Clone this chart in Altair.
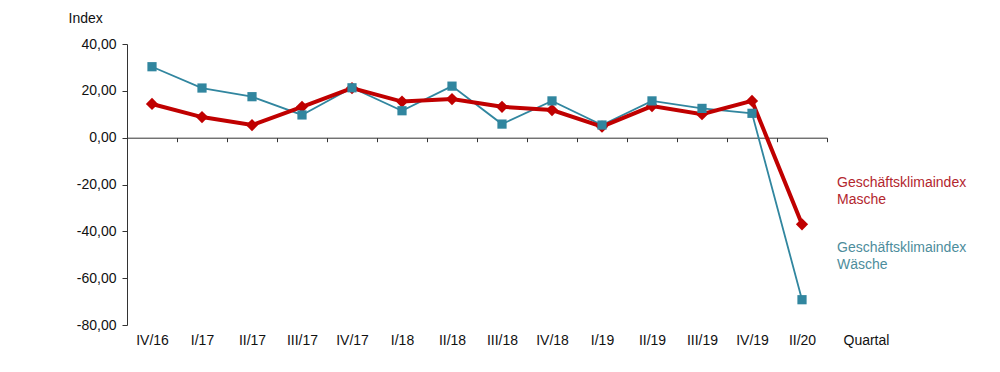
import altair as alt
import pandas as pd

quarters = ["IV/16", "I/17", "II/17", "III/17", "IV/17", "I/18", "II/18",
            "III/18", "IV/18", "I/19", "II/19", "III/19", "IV/19", "II/20"]
masche = [14.4, 8.8, 5.4, 13.2, 21.2, 15.4, 16.5, 13.2, 11.8, 4.7, 13.5, 10.0, 15.7, -37.0]
waesche = [30.3, 21.2, 17.5, 9.7, 21.3, 11.5, 22.0, 5.8, 15.7, 5.4, 15.7, 12.5, 10.4, -69.2]
series = ["Masche", "Wäsche"]
colors = ["#c00000", "#31869f"]
text_colors = ["#b3262e", "#4d8d9c"]
y_ticks = [-80, -60, -40, -20, 0, 20, 40]

df = pd.DataFrame({
    "Quartal": quarters * 2,
    "Wert": masche + waesche,
    "Serie": [series[0]] * len(quarters) + [series[1]] * len(quarters),
})

FONT = "Liberation Sans"

x = alt.X("Quartal:N", sort=quarters,
          scale=alt.Scale(type="band", paddingInner=0, paddingOuter=0),
          axis=alt.Axis(title="Quartal", titleX=716, titleY=203, titleAlign="left",
                        titleBaseline="middle", titleAngle=0, titleFontWeight="normal",
                        titleFont=FONT, titleFontSize=14, titleColor="#111",
                        offset=-187.3, tickBand="extent", tickSize=4, grid=False,
                        labelPadding=192, labelAngle=0, labelFont=FONT, labelFontSize=14,
                        labelColor="#111", domainColor="#333", tickColor="#333",
                        labelBaseline="top"))
y = alt.Y("Wert:Q",
          scale=alt.Scale(domain=[-80, 40], nice=False, zero=False),
          axis=alt.Axis(values=y_ticks, title="Index", titleX=-59, titleY=-26, titleAngle=0,
                        titleAlign="left", titleBaseline="middle", titleFontWeight="normal",
                        titleFont=FONT, titleFontSize=14, titleColor="#111",
                        labelExpr="(datum.value < 0 ? '-' : '') + replace(format(abs(datum.value), '.2f'), '.', ',')",
                        labelFont=FONT, labelFontSize=14, labelColor="#111", labelPadding=6,
                        tickSize=5, grid=False, domainColor="#333", tickColor="#333"))

color = alt.Color("Serie:N", scale=alt.Scale(domain=series, range=colors), legend=None)

base = alt.Chart(df).encode(x=x, y=y, color=color)

line_w = base.transform_filter(alt.datum.Serie == "Wäsche").mark_line(strokeWidth=1.8)
line_m = base.transform_filter(alt.datum.Serie == "Masche").mark_line(strokeWidth=4)
pts_m = base.transform_filter(alt.datum.Serie == "Masche").mark_point(
    shape="diamond", size=150, filled=True, opacity=1)
pts_w = base.transform_filter(alt.datum.Serie == "Wäsche").mark_point(
    shape="square", size=85, filled=True, opacity=1)

leg_m = alt.Chart(df).transform_filter(alt.datum.Quartal == "II/20").transform_filter(
    alt.datum.Serie == "Masche").mark_text(
    text=["Geschäftsklimaindex", "Masche"], align="left", baseline="top",
    font=FONT, fontSize=14, lineHeight=17, color=text_colors[0]
).encode(x=alt.value(710), y=alt.value(132))
leg_w = alt.Chart(df).transform_filter(alt.datum.Quartal == "II/20").transform_filter(
    alt.datum.Serie == "Wäsche").mark_text(
    text=["Geschäftsklimaindex", "Wäsche"], align="left", baseline="top",
    font=FONT, fontSize=14, lineHeight=17, color=text_colors[1]
).encode(x=alt.value(710), y=alt.value(197))

chart = alt.layer(line_w, line_m, pts_m, pts_w, leg_m, leg_w).properties(
    width=700, height=281,
    background="white",
    autosize=alt.AutoSizeParams(type="none"),
    padding={"left": 119, "top": 36, "right": 165, "bottom": 30},
).configure_view(strokeWidth=0, stroke="transparent").configure_axis(grid=False)

chart.save("out.html", embed_options={"renderer": "svg", "actions": False})
